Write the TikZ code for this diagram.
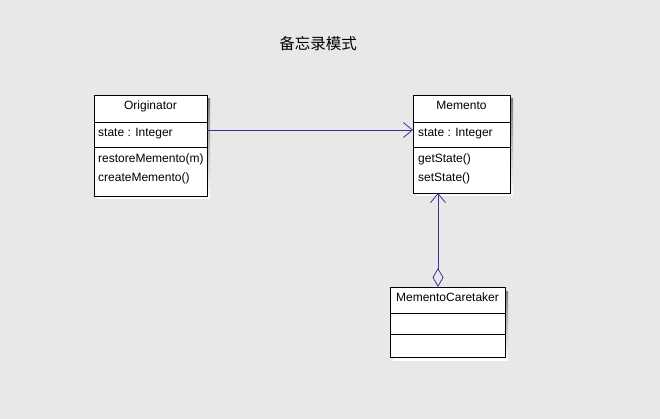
\documentclass[tikz,border=0pt]{standalone}
\usepackage{fontspec}
\setmainfont{Liberation Sans}
\newfontfamily\cjk{Noto Sans CJK SC}
\usetikzlibrary{arrows.meta}
\definecolor{bg}{HTML}{E8E8E8}
\definecolor{link}{HTML}{333399}
\definecolor{shade}{HTML}{D2D2D2}
\begin{document}
\begin{tikzpicture}[x=1pt,y=-1pt,
  umlbox/.style={draw=black,fill=white,line width=0.8pt,anchor=north west,inner sep=0pt,outer sep=0pt},
  txt/.style={font=\fontsize{12}{13}\selectfont,inner sep=0pt,anchor=base west},
  head/.style={font=\fontsize{12}{13}\selectfont,inner sep=0pt,anchor=base},
  divider/.style={draw=black,line width=0.8pt},
  assoc/.style={draw=link,line width=0.8pt,-{Straight Barb[length=9pt,width=15pt,line width=0.8pt]}},
  aggr/.style={draw=link,line width=0.8pt,{Straight Barb[length=9pt,width=15pt,line width=0.8pt]}-{Diamond[open,length=19pt,width=11pt,line width=0.8pt]}}
]
\useasboundingbox (0,0) rectangle (660,419);
\fill[bg] (0,0) rectangle (660,419);

\node[font=\cjk\fontsize{15.5}{16}\selectfont,inner sep=0pt] (title) at (318,44) {备忘录模式};

% shadows
\fill[shade] (97,99) rectangle (210,199);
\fill[shade] (416,99) rectangle (513,196);
\fill[shade] (393,291) rectangle (508,360);

% Originator
\node[umlbox,minimum width=113pt,minimum height=101pt] (orig) at (94,95) {};
\draw[divider] (94,122) -- (207,122);
\draw[divider] (94,147) -- (207,147);
\node[head] (origname) at (150.5,109.5) {Originator};
\node[txt] (origattr) at (98,136.5) {state : Integer};
\node[txt] (origop1) at (98,162.5) {restoreMemento(m)};
\node[txt] (origop2) at (98,181.5) {createMemento()};

% Memento
\node[umlbox,minimum width=97pt,minimum height=98pt] (mem) at (413,95) {};
\draw[divider] (413,122) -- (510,122);
\draw[divider] (413,147) -- (510,147);
\node[head] (memname) at (461.5,109.5) {Memento};
\node[txt] (memattr) at (418,136.5) {state : Integer};
\node[txt] (memop1) at (418,162.5) {getState()};
\node[txt] (memop2) at (418,181.5) {setState()};

% MementoCaretaker
\node[umlbox,minimum width=115pt,minimum height=70pt] (care) at (390,287) {};
\draw[divider] (390,313) -- (505,313);
\draw[divider] (390,334) -- (505,334);
\node[head] (carename) at (447.5,301.5) {MementoCaretaker};

% connectors
\draw[assoc] ([yshift=-35pt]orig.north east) -- ([yshift=-35pt]mem.north west);
\draw[aggr] ([xshift=25pt]mem.south west) -- ([xshift=48pt]care.north west);
\end{tikzpicture}
\end{document}
